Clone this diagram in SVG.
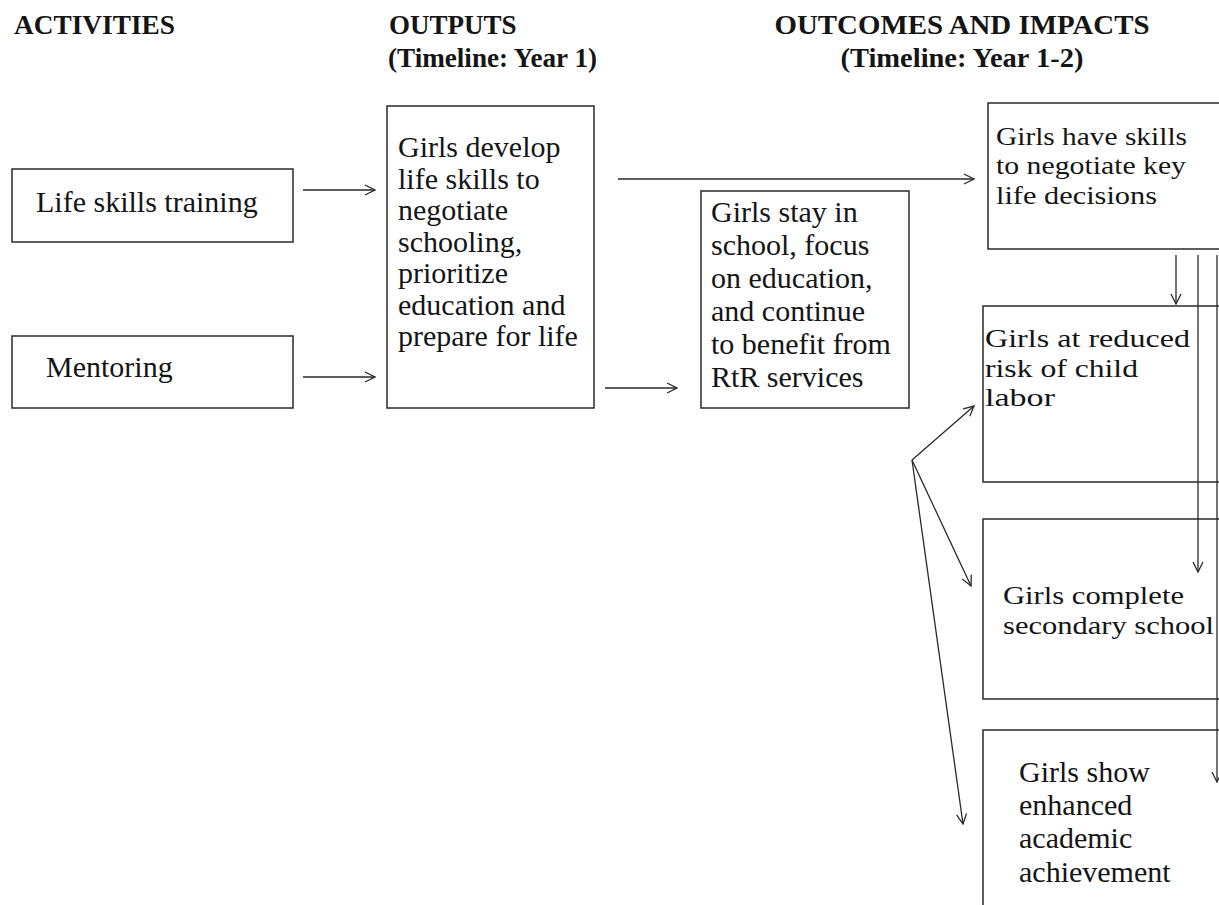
<svg xmlns="http://www.w3.org/2000/svg" width="1219" height="905" viewBox="0 0 1219 905">
<style>
.bg{fill:#ffffff}
.box{fill:#ffffff;stroke:#2a2a2a;stroke-width:1.5}
.t{font-family:"Liberation Serif","Times New Roman",serif;font-size:30px;fill:#151515}
.s{font-family:"Liberation Serif","Times New Roman",serif;font-size:26px;fill:#151515}
.h{font-family:"Liberation Serif","Times New Roman",serif;font-size:27px;font-weight:bold;fill:#151515}
.c{fill:none;stroke:#2a2a2a;stroke-width:1.3}
</style>
<defs>
<marker id="ah" viewBox="0 0 12 12" refX="11" refY="6" markerWidth="12" markerHeight="12" markerUnits="userSpaceOnUse" orient="auto">
<path d="M1,1 L11,6 L1,11" fill="none" stroke="#2a2a2a" stroke-width="1.3"/>
</marker>
</defs>
<rect class="bg" x="0" y="0" width="1219" height="905"/>
<g id="headers">
<text class="h" x="14" y="34" textLength="161" lengthAdjust="spacingAndGlyphs">ACTIVITIES</text>
<text class="h" x="389" y="34">OUTPUTS</text>
<text class="h" x="388" y="67" textLength="209" lengthAdjust="spacingAndGlyphs">(Timeline: Year 1)</text>
<text class="h" x="962" y="34" text-anchor="middle" textLength="375" lengthAdjust="spacingAndGlyphs">OUTCOMES AND IMPACTS</text>
<text class="h" x="962" y="67" text-anchor="middle" textLength="243" lengthAdjust="spacingAndGlyphs">(Timeline: Year 1-2)</text>
</g>
<g id="node-life-skills">
<rect class="box" x="12" y="169" width="281" height="73"/>
<text class="t" x="36" y="212">Life skills training</text>
</g>
<g id="node-mentoring">
<rect class="box" x="12" y="336" width="281" height="72"/>
<text class="t" x="46" y="377">Mentoring</text>
</g>
<g id="node-outputs">
<rect class="box" x="387" y="106" width="207" height="302"/>
<text class="t" x="398" y="157">Girls develop</text>
<text class="t" x="398" y="188.5">life skills  to</text>
<text class="t" x="398" y="220">negotiate</text>
<text class="t" x="398" y="251.5">schooling,</text>
<text class="t" x="398" y="283">prioritize</text>
<text class="t" x="398" y="314.5">education and</text>
<text class="t" x="398" y="346">prepare for life</text>
</g>
<g id="node-stay">
<rect class="box" x="701" y="191" width="208" height="217"/>
<text class="t" x="711" y="222">Girls stay in</text>
<text class="t" x="711" y="255">school, focus</text>
<text class="t" x="711" y="288">on education,</text>
<text class="t" x="711" y="321">and continue</text>
<text class="t" x="711" y="354">to benefit from</text>
<text class="t" x="711" y="387">RtR services</text>
</g>
<g id="node-negotiate">
<rect class="box" x="988" y="103" width="240" height="146"/>
<text class="s" x="996" y="144.5" textLength="191" lengthAdjust="spacingAndGlyphs">Girls have skills</text>
<text class="s" x="996" y="174" textLength="190" lengthAdjust="spacingAndGlyphs">to negotiate key</text>
<text class="s" x="996" y="203.5" textLength="161" lengthAdjust="spacingAndGlyphs">life decisions</text>
</g>
<g id="node-labor">
<rect class="box" x="983" y="306" width="245" height="176"/>
<text class="s" x="985" y="347" textLength="205" lengthAdjust="spacingAndGlyphs">Girls at reduced</text>
<text class="s" x="985" y="376.5" textLength="153" lengthAdjust="spacingAndGlyphs">risk of child</text>
<text class="s" x="985" y="406" textLength="70" lengthAdjust="spacingAndGlyphs">labor</text>
</g>
<g id="node-complete">
<rect class="box" x="983" y="519" width="245" height="180"/>
<text class="s" x="1003" y="604" textLength="181" lengthAdjust="spacingAndGlyphs">Girls complete</text>
<text class="s" x="1003" y="633.5" textLength="211" lengthAdjust="spacingAndGlyphs">secondary school</text>
</g>
<g id="node-academic">
<rect class="box" x="983" y="730" width="245" height="190"/>
<text class="t" x="1019" y="782">Girls show</text>
<text class="t" x="1019" y="815">enhanced</text>
<text class="t" x="1019" y="848">academic</text>
<text class="t" x="1019" y="881.5">achievement</text>
</g>
<g id="connectors">
<line class="c" x1="303" y1="190" x2="375" y2="190" marker-end="url(#ah)"/>
<line class="c" x1="303" y1="377" x2="375" y2="377" marker-end="url(#ah)"/>
<line class="c" x1="605" y1="388" x2="677" y2="388" marker-end="url(#ah)"/>
<line class="c" x1="618" y1="179" x2="974" y2="179" marker-end="url(#ah)"/>
<line class="c" x1="1176" y1="255" x2="1176" y2="304" marker-end="url(#ah)"/>
<line class="c" x1="1198" y1="255" x2="1198" y2="572" marker-end="url(#ah)"/>
<line class="c" x1="1217" y1="255" x2="1217" y2="782" marker-end="url(#ah)"/>
<line class="c" x1="912" y1="460" x2="974" y2="406" marker-end="url(#ah)"/>
<line class="c" x1="912" y1="460" x2="971" y2="586" marker-end="url(#ah)"/>
<line class="c" x1="912" y1="460" x2="963" y2="824" marker-end="url(#ah)"/>
</g>
</svg>
